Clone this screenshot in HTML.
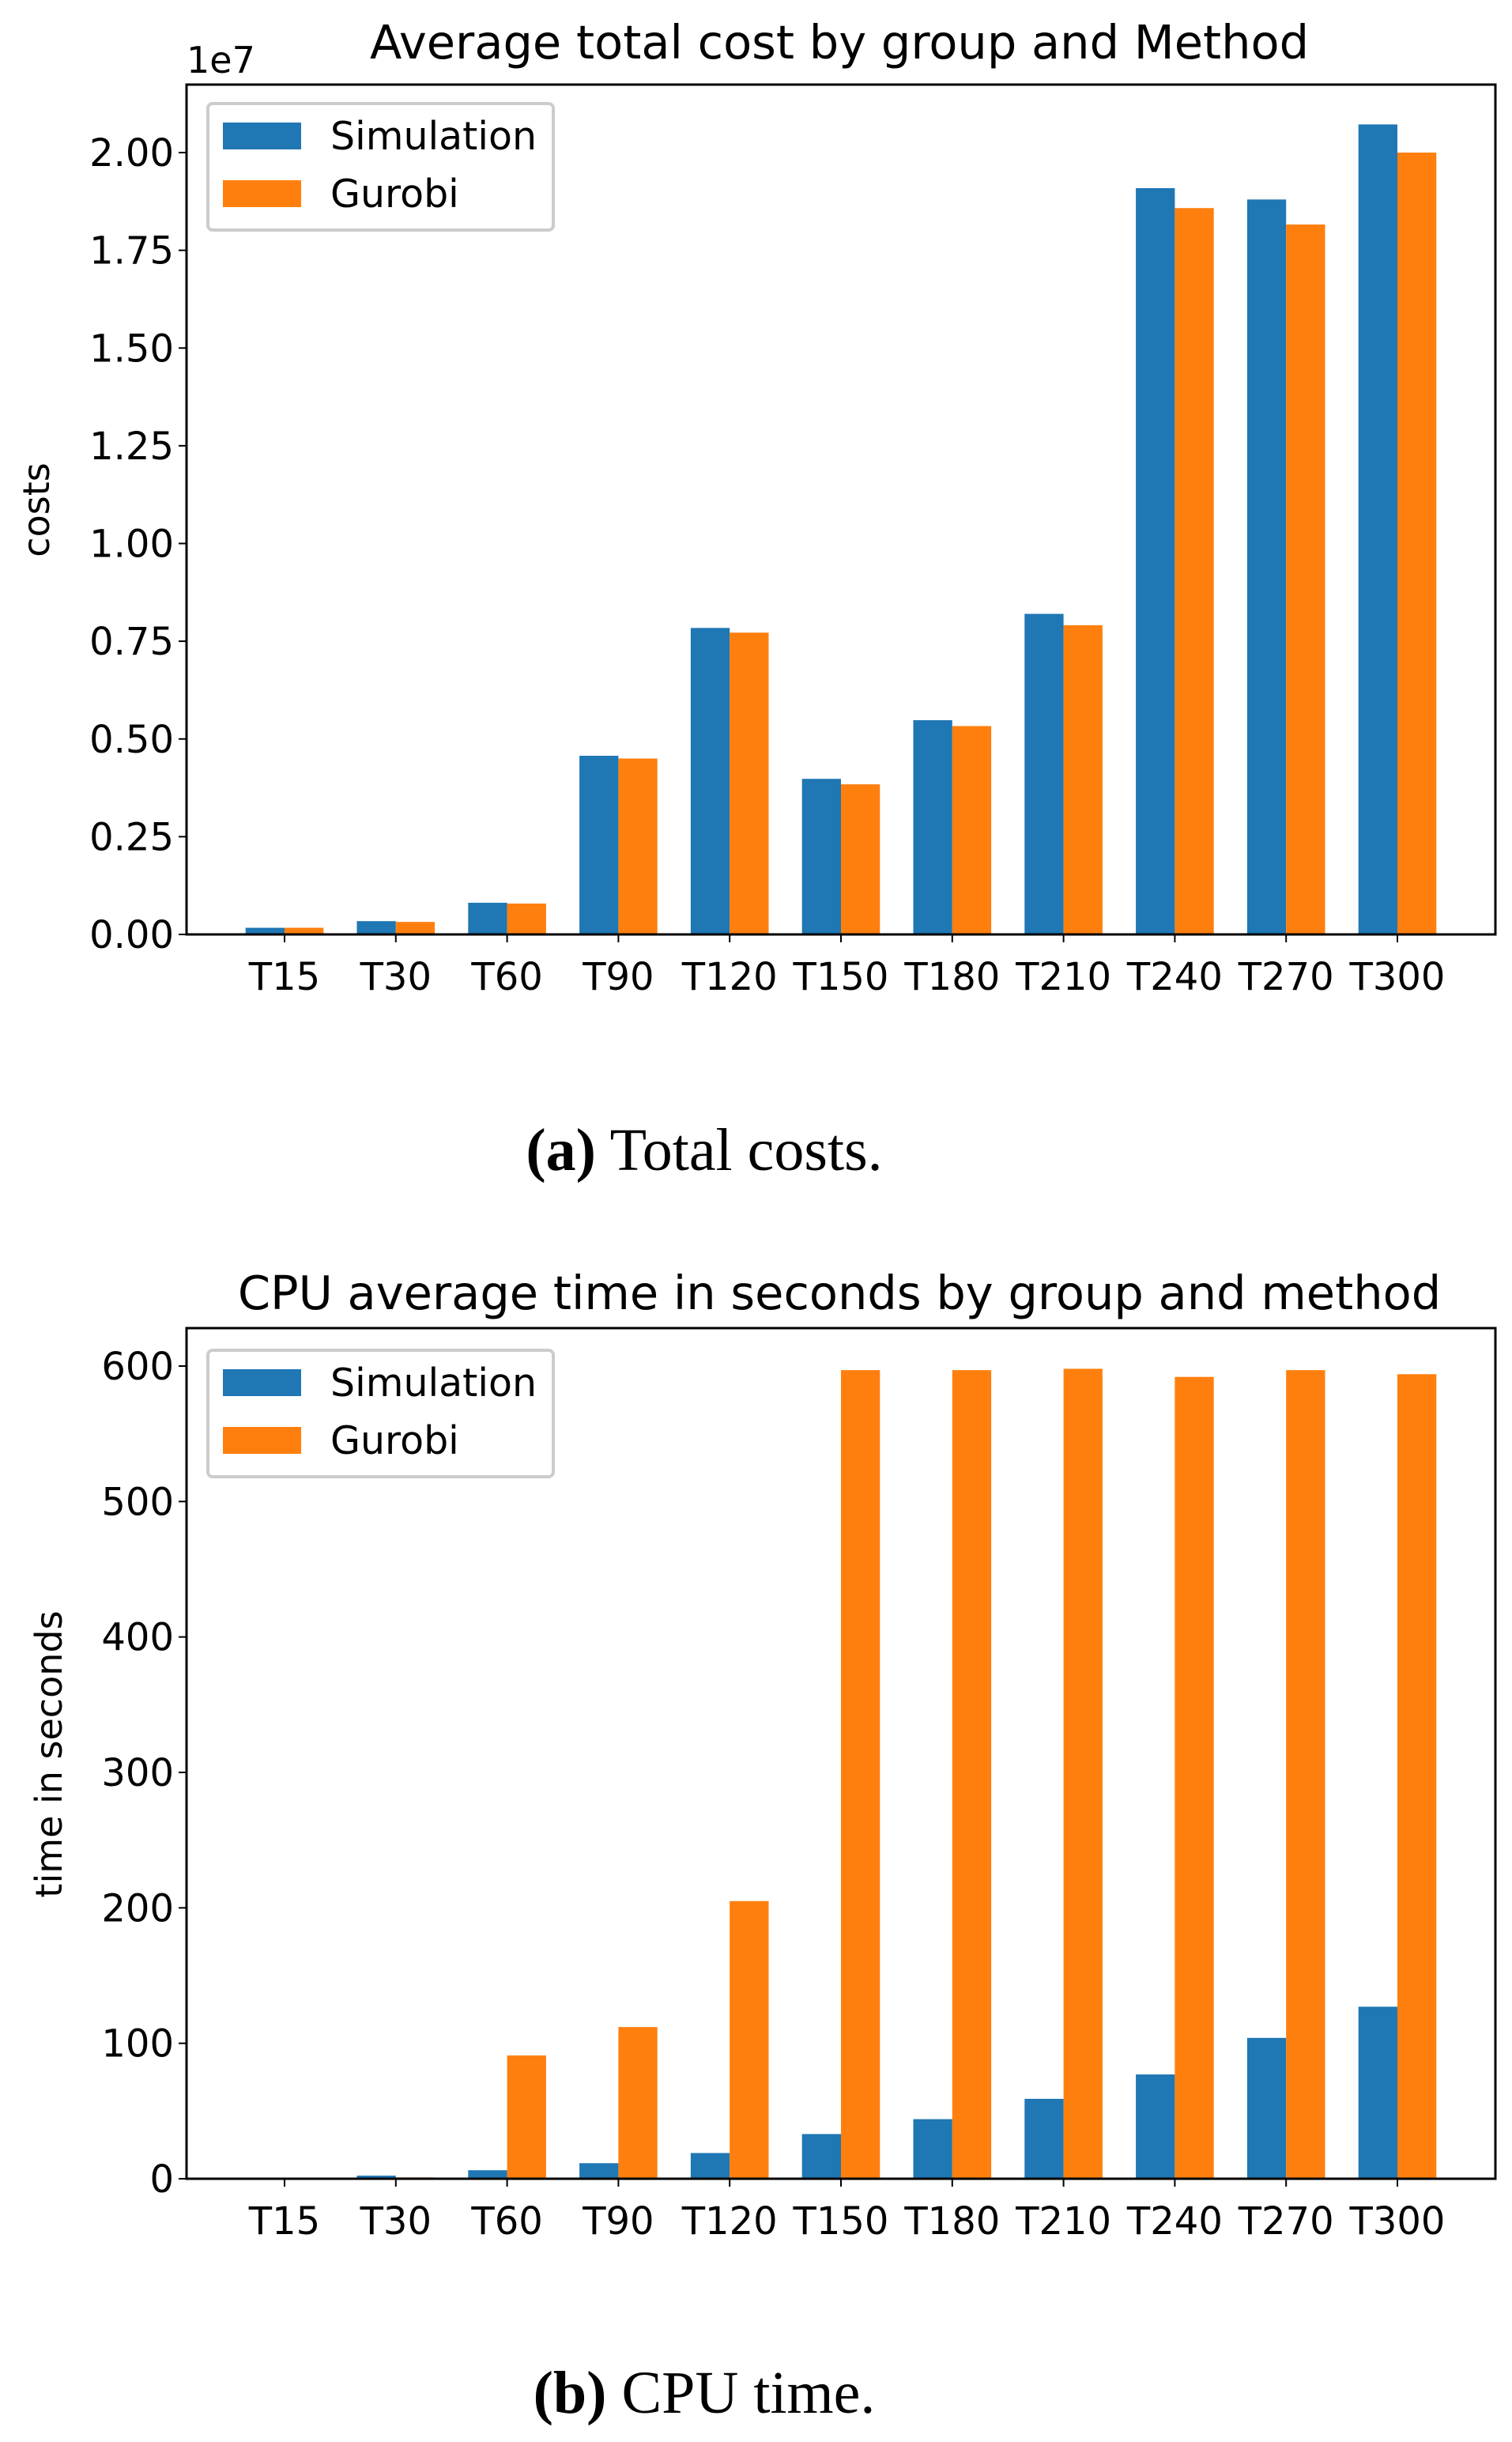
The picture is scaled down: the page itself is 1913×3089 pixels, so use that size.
<!DOCTYPE html>
<html><head><meta charset="utf-8"><style>
body{margin:0;background:#fff}
text{font-family:"DejaVu Sans","Liberation Sans",sans-serif;fill:#000}
.cap{font-family:"Liberation Serif",serif}
</style></head><body>
<svg id="svg" width="1913" height="3084" viewBox="0 0 1913 3084" xmlns="http://www.w3.org/2000/svg">
<rect width="1913" height="3084" fill="#fff"/>
<text x="1062" y="74" font-size="59" text-anchor="middle">Average total cost by group and Method</text>
<text x="236" y="92" font-size="46">1e7</text>
<text transform="translate(62,645) rotate(-90)" font-size="46" text-anchor="middle">costs</text>
<text class="cap" x="891" y="1480" font-size="76" text-anchor="middle"><tspan font-weight="bold">(a)</tspan> Total costs.</text>
<text x="1062" y="1656" font-size="59" text-anchor="middle">CPU average time in seconds by group and method</text>
<text transform="translate(78,2219) rotate(-90)" font-size="46" text-anchor="middle">time in seconds</text>
<text class="cap" x="891" y="3052" font-size="76" text-anchor="middle"><tspan font-weight="bold">(b)</tspan> CPU time.</text>
<g id="c1"></g><g id="c2"></g>
</svg>
<script>
const categories=["T15","T30","T60","T90","T120","T150","T180","T210","T240","T270","T300"];
const costSim=[0.017,0.034,0.081,0.457,0.784,0.398,0.548,0.820,1.909,1.880,2.072];
const costGur=[0.017,0.032,0.079,0.450,0.772,0.384,0.533,0.791,1.858,1.816,2.000];
const costTicks=["0.00","0.25","0.50","0.75","1.00","1.25","1.50","1.75","2.00"];
const cpuSim=[0.3,2.3,6.3,11.5,19,33,44,59,77,104,127];
const cpuGur=[0.3,1,91,112,205,597,597,598,592,597,594];
const cpuTicks=["0","100","200","300","400","500","600"];
const NS="http://www.w3.org/2000/svg";
function mk(p,t,a){const e=document.createElementNS(NS,t);for(const k in a)e.setAttribute(k,a[k]);p.appendChild(e);return e;}
function chart(g,pre,sim,gur,ticks,tickStep,top,bottom,y0,yTopVal,yTopPix,legTop){
  const left=236,right=1892,x0=360,dx=140.8,bw=49.3;
  const y=v=>y0-(v/yTopVal)*(y0-yTopPix);
  const x=i=>x0+i*dx;
  sim.forEach((v,i)=>{const r=mk(g,'rect',{x:x(i)-bw,y:y(v),width:bw,height:y0-y(v),fill:'#1f77b4'});
    
    });
  gur.forEach((v,i)=>{const r=mk(g,'rect',{x:x(i),y:y(v),width:bw,height:y0-y(v),fill:'#ff7f0e'});
    
    });
  ticks.forEach((t,i)=>{const yy=y(i*tickStep);
    const l=mk(g,'line',{x1:left-10,x2:left,y1:yy,y2:yy,stroke:'#000','stroke-width':2});
    
    
    const tx=mk(g,'text',{x:left-16,y:yy+17,'font-size':48,'text-anchor':'end'});tx.textContent=t;
    
    });
  categories.forEach((c,i)=>{
    const l=mk(g,'line',{x1:x(i),x2:x(i),y1:bottom,y2:bottom+10,stroke:'#000','stroke-width':2});
    
    
    const tx=mk(g,'text',{x:x(i),y:bottom+70,'font-size':48,'text-anchor':'middle'});tx.textContent=c;
    
    });
  const fr=mk(g,'rect',{x:left,y:top,width:right-left,height:bottom-top,fill:'none',stroke:'#000','stroke-width':3});
  
  
  const lg=mk(g,'g',{});
  
  
  mk(lg,'rect',{x:263,y:legTop,width:437,height:160,rx:6,fill:'#fff',stroke:'#ccc','stroke-width':4});
  mk(lg,'rect',{x:282,y:legTop+24,width:99,height:34,fill:'#1f77b4'});
  mk(lg,'rect',{x:282,y:legTop+97,width:99,height:34,fill:'#ff7f0e'});
  const t1=mk(lg,'text',{x:418,y:legTop+58,'font-size':49});t1.textContent='Simulation';
  
  
  const t2=mk(lg,'text',{x:418,y:legTop+131,'font-size':49});t2.textContent='Gurobi';
  
  
}
chart(document.getElementById('c1'),'cost',costSim,costGur,costTicks,0.25,107,1182,1182,2.0,193,131);
chart(document.getElementById('c2'),'cpu',cpuSim,cpuGur,cpuTicks,100,1680,2756,2756,600,1728,1708);
</script>
</body></html>
